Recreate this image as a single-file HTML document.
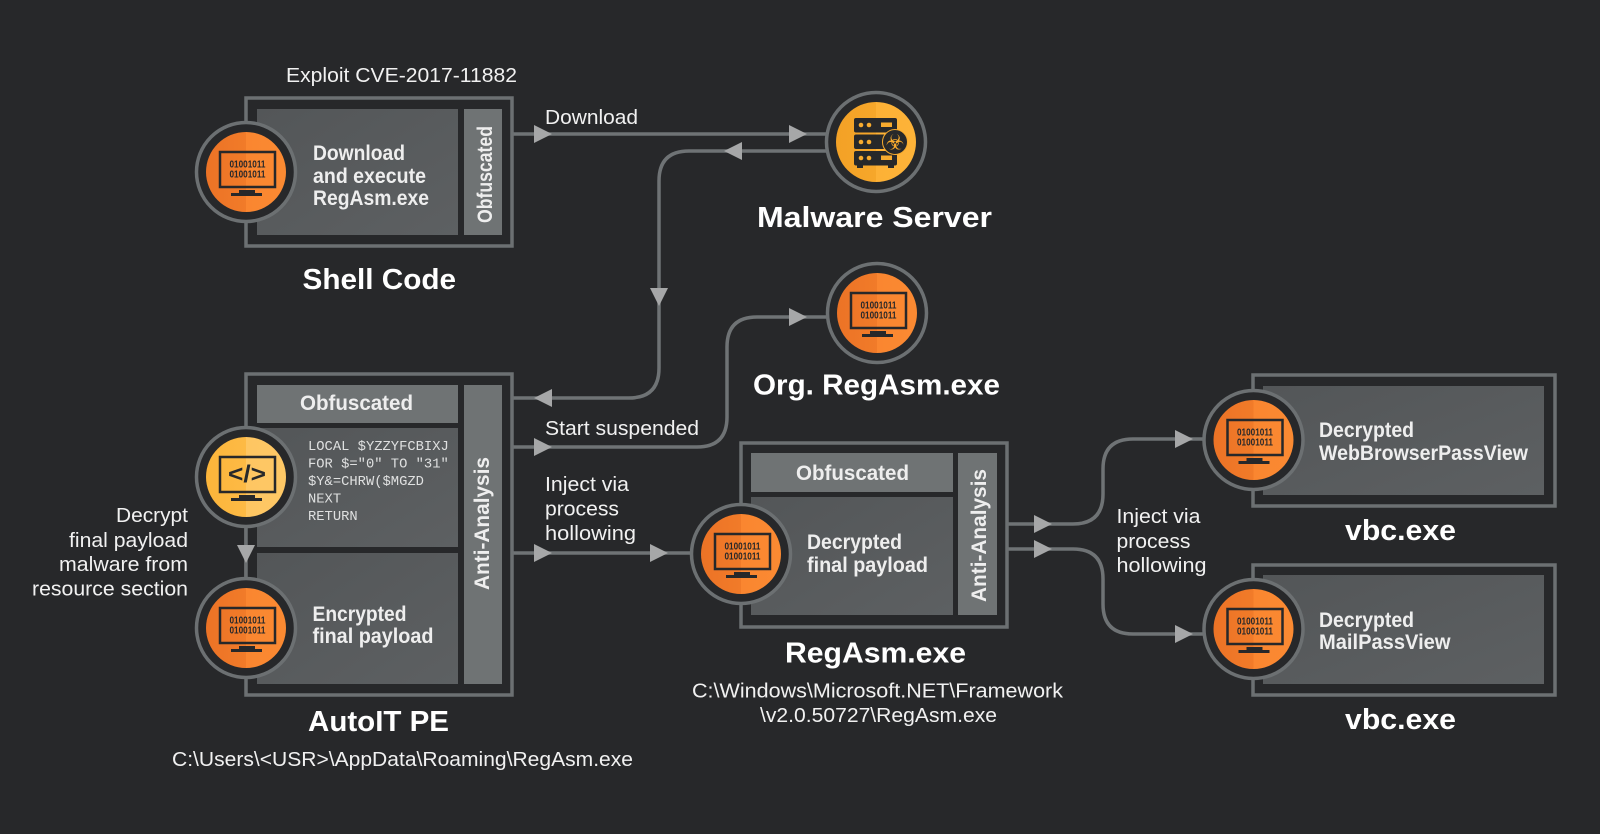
<!DOCTYPE html>
<html lang="en">
<head>
<meta charset="utf-8">
<title>Malware flow diagram</title>
<style>
html,body{margin:0;padding:0;background:#27282a;}
svg{display:block;width:1600px;height:834px;}
text{font-family:"Liberation Sans",sans-serif;}
.r{font-size:20.5px;fill:#f1f1f1;}
.b{font-size:21px;font-weight:700;fill:#eeeeee;}
.h{font-size:29px;font-weight:700;fill:#ffffff;}
.c{font-family:"Liberation Mono",monospace;font-size:13.8px;fill:#dfe0e0;}
.n{font-size:10px;font-weight:700;fill:#27282a;}
.wire{fill:none;stroke:#6f7375;stroke-width:3.5;}
.box{fill:#27282a;stroke:#6c7072;stroke-width:3.5;}
.ring{fill:#27282a;stroke:#6c7072;stroke-width:3.5;}
.tip{fill:#a6a7a8;}
.pan{fill:url(#pg);}
.bar{fill:#6f7374;}
.dk{fill:#27282a;}
</style>
</head>
<body>
<svg xmlns="http://www.w3.org/2000/svg" width="1600" height="834" viewBox="0 0 1600 834">
<defs>
<linearGradient id="pg" x1="0" y1="0" x2="1" y2="1"><stop offset="0" stop-color="#535658"/><stop offset="1" stop-color="#5d6062"/></linearGradient>
<linearGradient id="org" x1="0" x2="1" y1="0" y2="0"><stop offset="0" stop-color="#ec7326"/><stop offset="0.5" stop-color="#f17b29"/><stop offset="0.5" stop-color="#fa8630"/><stop offset="1" stop-color="#fb8a32"/></linearGradient>
<linearGradient id="yel" x1="0" x2="1" y1="0" y2="0"><stop offset="0" stop-color="#fcb53a"/><stop offset="0.5" stop-color="#fdba45"/><stop offset="0.5" stop-color="#fec662"/><stop offset="1" stop-color="#fec866"/></linearGradient>
<linearGradient id="amb" x1="0" x2="1" y1="0" y2="0"><stop offset="0" stop-color="#f3a126"/><stop offset="0.5" stop-color="#f6a72a"/><stop offset="0.5" stop-color="#fdb136"/><stop offset="1" stop-color="#fdb338"/></linearGradient>
</defs>
<rect width="1600" height="834" fill="#27282a"/>

<!-- connectors -->
<path class="wire" d="M512 134H826"/>
<path class="wire" d="M826 151H689Q659 151 659 181V368Q659 398 629 398H512"/>
<path class="wire" d="M826 317H757Q727 317 727 347V417Q727 447 697 447H512"/>
<path class="wire" d="M512 553H695"/>
<path class="wire" d="M246 525V580"/>
<path class="wire" d="M1007 524H1073Q1103 524 1103 494V469Q1103 439 1133 439H1205"/>
<path class="wire" d="M1007 549H1073Q1103 549 1103 579V604Q1103 634 1133 634H1205"/>

<!-- boxes -->
<rect class="box" x="246" y="98" width="266" height="148"/>
<rect class="pan" x="257" y="109" width="201" height="126"/>
<rect class="bar" x="464" y="109" width="38" height="126"/>

<rect class="box" x="246" y="374" width="266" height="321"/>
<rect class="bar" x="257" y="385" width="201" height="38"/>
<rect class="pan" x="257" y="428" width="201" height="119"/>
<rect class="pan" x="257" y="553" width="201" height="131"/>
<rect class="bar" x="464" y="385" width="38" height="299"/>

<rect class="box" x="741" y="443" width="266" height="184"/>
<rect class="bar" x="751" y="453" width="202" height="39"/>
<rect class="pan" x="751" y="497" width="202" height="118"/>
<rect class="bar" x="958" y="453" width="39" height="162"/>

<rect class="box" x="1253" y="375" width="302" height="131"/>
<rect class="pan" x="1263" y="386" width="281" height="109"/>
<rect class="box" x="1253" y="565" width="302" height="130"/>
<rect class="pan" x="1263" y="575" width="281" height="109"/>

<!-- arrowheads -->
<path class="tip" d="M534 125L552 134L534 143Z"/>
<path class="tip" d="M789 125L807 134L789 143Z"/>
<path class="tip" d="M742 142L724 151L742 160Z"/>
<path class="tip" d="M650 288L668 288L659 306Z"/>
<path class="tip" d="M552 389L534 398L552 407Z"/>
<path class="tip" d="M789 308L807 317L789 326Z"/>
<path class="tip" d="M534 438L552 447L534 456Z"/>
<path class="tip" d="M534 544L552 553L534 562Z"/>
<path class="tip" d="M650 544L668 553L650 562Z"/>
<path class="tip" d="M237 545L255 545L246 563Z"/>
<path class="tip" d="M1034 515L1052 524L1034 533Z"/>
<path class="tip" d="M1034 540L1052 549L1034 558Z"/>
<path class="tip" d="M1175 430L1193 439L1175 448Z"/>
<path class="tip" d="M1175 625L1193 634L1175 643Z"/>

<!-- nodes -->
<g transform="translate(246,172)">
<circle class="ring" r="49.5"/><circle r="40" fill="url(#org)"/>
<rect x="-26" y="-20" width="55" height="35" fill="none" stroke="#27282a" stroke-width="2.5"/>
<rect x="-7" y="18" width="16" height="3" class="dk"/><rect x="-15" y="21" width="31" height="3" class="dk"/>
<text class="n" x="-16.5" y="-4.5" textLength="36" lengthAdjust="spacingAndGlyphs">01001011</text>
<text class="n" x="-16.5" y="5.5" textLength="36" lengthAdjust="spacingAndGlyphs">01001011</text>
</g>
<g transform="translate(246,628)">
<circle class="ring" r="49.5"/><circle r="40" fill="url(#org)"/>
<rect x="-26" y="-20" width="55" height="35" fill="none" stroke="#27282a" stroke-width="2.5"/>
<rect x="-7" y="18" width="16" height="3" class="dk"/><rect x="-15" y="21" width="31" height="3" class="dk"/>
<text class="n" x="-16.5" y="-4.5" textLength="36" lengthAdjust="spacingAndGlyphs">01001011</text>
<text class="n" x="-16.5" y="5.5" textLength="36" lengthAdjust="spacingAndGlyphs">01001011</text>
</g>
<g transform="translate(246,477)">
<circle class="ring" r="49.5"/><circle r="40" fill="url(#yel)"/>
<rect x="-26" y="-20" width="55" height="35" fill="none" stroke="#27282a" stroke-width="2.5"/>
<rect x="-7" y="18" width="16" height="3" class="dk"/><rect x="-15" y="21" width="31" height="3" class="dk"/>
<text x="-18" y="5" font-size="24" font-weight="700" fill="#27282a" textLength="38" lengthAdjust="spacingAndGlyphs">&lt;/&gt;</text>
</g>
<g transform="translate(877,313)">
<circle class="ring" r="49.5"/><circle r="40" fill="url(#org)"/>
<rect x="-26" y="-20" width="55" height="35" fill="none" stroke="#27282a" stroke-width="2.5"/>
<rect x="-7" y="18" width="16" height="3" class="dk"/><rect x="-15" y="21" width="31" height="3" class="dk"/>
<text class="n" x="-16.5" y="-4.5" textLength="36" lengthAdjust="spacingAndGlyphs">01001011</text>
<text class="n" x="-16.5" y="5.5" textLength="36" lengthAdjust="spacingAndGlyphs">01001011</text>
</g>
<g transform="translate(741,554)">
<circle class="ring" r="49.5"/><circle r="40" fill="url(#org)"/>
<rect x="-26" y="-20" width="55" height="35" fill="none" stroke="#27282a" stroke-width="2.5"/>
<rect x="-7" y="18" width="16" height="3" class="dk"/><rect x="-15" y="21" width="31" height="3" class="dk"/>
<text class="n" x="-16.5" y="-4.5" textLength="36" lengthAdjust="spacingAndGlyphs">01001011</text>
<text class="n" x="-16.5" y="5.5" textLength="36" lengthAdjust="spacingAndGlyphs">01001011</text>
</g>
<g transform="translate(1253.5,440)">
<circle class="ring" r="49.5"/><circle r="40" fill="url(#org)"/>
<rect x="-26" y="-20" width="55" height="35" fill="none" stroke="#27282a" stroke-width="2.5"/>
<rect x="-7" y="18" width="16" height="3" class="dk"/><rect x="-15" y="21" width="31" height="3" class="dk"/>
<text class="n" x="-16.5" y="-4.5" textLength="36" lengthAdjust="spacingAndGlyphs">01001011</text>
<text class="n" x="-16.5" y="5.5" textLength="36" lengthAdjust="spacingAndGlyphs">01001011</text>
</g>
<g transform="translate(1253.5,629)">
<circle class="ring" r="49.5"/><circle r="40" fill="url(#org)"/>
<rect x="-26" y="-20" width="55" height="35" fill="none" stroke="#27282a" stroke-width="2.5"/>
<rect x="-7" y="18" width="16" height="3" class="dk"/><rect x="-15" y="21" width="31" height="3" class="dk"/>
<text class="n" x="-16.5" y="-4.5" textLength="36" lengthAdjust="spacingAndGlyphs">01001011</text>
<text class="n" x="-16.5" y="5.5" textLength="36" lengthAdjust="spacingAndGlyphs">01001011</text>
</g>
<g transform="translate(876,142)">
<circle class="ring" r="49.5"/><circle r="40" fill="url(#amb)"/>
<g class="dk">
<rect x="-22" y="-24" width="43" height="14.5" rx="2"/>
<rect x="-22" y="-7.5" width="43" height="14.5" rx="2"/>
<rect x="-22" y="9" width="43" height="14.5" rx="2"/>
<rect x="-19" y="23" width="6" height="3"/><rect x="12" y="23" width="6" height="3"/>
</g>
<g fill="#f8ab2e">
<circle cx="-15" cy="-17" r="2.3"/><circle cx="-7" cy="-17" r="2.3"/>
<circle cx="-15" cy="0" r="2.3"/><circle cx="-7" cy="0" r="2.3"/>
<circle cx="-15" cy="16" r="2.3"/><circle cx="-7" cy="16" r="2.3"/>
<rect x="5" y="-19.5" width="11" height="4.5"/><rect x="5" y="13.5" width="11" height="4.5"/>
</g>
<circle cx="19" cy="0" r="12.5" class="dk" stroke="#f8ab2e" stroke-width="1"/>
<text x="19" y="7.5" text-anchor="middle" font-size="21" style="font-family:'DejaVu Sans',sans-serif" fill="#f8ab2e">☣</text>
</g>

<!-- labels: regular -->
<text class="r" x="286" y="82" textLength="231" lengthAdjust="spacingAndGlyphs">Exploit CVE-2017-11882</text>
<text class="r" x="545" y="124" textLength="93" lengthAdjust="spacingAndGlyphs">Download</text>
<text class="r" x="545" y="435" textLength="154" lengthAdjust="spacingAndGlyphs">Start suspended</text>
<text class="r" x="545" y="491" textLength="84" lengthAdjust="spacingAndGlyphs">Inject via</text>
<text class="r" x="545" y="515.5" textLength="74" lengthAdjust="spacingAndGlyphs">process</text>
<text class="r" x="545" y="540" textLength="91" lengthAdjust="spacingAndGlyphs">hollowing</text>
<text class="r" x="116" y="522" textLength="72" lengthAdjust="spacingAndGlyphs">Decrypt</text>
<text class="r" x="69" y="547" textLength="119" lengthAdjust="spacingAndGlyphs">final payload</text>
<text class="r" x="59" y="571" textLength="129" lengthAdjust="spacingAndGlyphs">malware from</text>
<text class="r" x="32" y="595.5" textLength="156" lengthAdjust="spacingAndGlyphs">resource section</text>
<text class="r" x="172" y="766" textLength="461" lengthAdjust="spacingAndGlyphs">C:\Users\&lt;USR&gt;\AppData\Roaming\RegAsm.exe</text>
<text class="r" x="692" y="697.5" textLength="371" lengthAdjust="spacingAndGlyphs">C:\Windows\Microsoft.NET\Framework</text>
<text class="r" x="760" y="722" textLength="237" lengthAdjust="spacingAndGlyphs">\v2.0.50727\RegAsm.exe</text>
<text class="r" x="1116.5" y="523" textLength="84" lengthAdjust="spacingAndGlyphs">Inject via</text>
<text class="r" x="1116.5" y="548" textLength="74" lengthAdjust="spacingAndGlyphs">process</text>
<text class="r" x="1116.5" y="572" textLength="90" lengthAdjust="spacingAndGlyphs">hollowing</text>

<!-- labels: panels -->
<text class="b" x="313" y="160" textLength="92" lengthAdjust="spacingAndGlyphs">Download</text>
<text class="b" x="313" y="183" textLength="113" lengthAdjust="spacingAndGlyphs">and execute</text>
<text class="b" x="313" y="205" textLength="116" lengthAdjust="spacingAndGlyphs">RegAsm.exe</text>
<text class="b" transform="translate(492,223) rotate(-90)" textLength="97" lengthAdjust="spacingAndGlyphs">Obfuscated</text>
<text class="b" x="300" y="410" textLength="113" lengthAdjust="spacingAndGlyphs">Obfuscated</text>
<text class="b" x="312.5" y="621" textLength="94" lengthAdjust="spacingAndGlyphs">Encrypted</text>
<text class="b" x="312.5" y="643" textLength="121" lengthAdjust="spacingAndGlyphs">final payload</text>
<text class="b" transform="translate(489,590) rotate(-90)" textLength="133" lengthAdjust="spacingAndGlyphs">Anti-Analysis</text>
<text class="b" x="796" y="480" textLength="113" lengthAdjust="spacingAndGlyphs">Obfuscated</text>
<text class="b" x="807" y="549" textLength="95" lengthAdjust="spacingAndGlyphs">Decrypted</text>
<text class="b" x="807" y="572" textLength="121" lengthAdjust="spacingAndGlyphs">final payload</text>
<text class="b" transform="translate(986,602) rotate(-90)" textLength="133" lengthAdjust="spacingAndGlyphs">Anti-Analysis</text>
<text class="b" x="1319" y="437" textLength="95" lengthAdjust="spacingAndGlyphs">Decrypted</text>
<text class="b" x="1319" y="460" textLength="209" lengthAdjust="spacingAndGlyphs">WebBrowserPassView</text>
<text class="b" x="1319" y="627" textLength="95" lengthAdjust="spacingAndGlyphs">Decrypted</text>
<text class="b" x="1319" y="649" textLength="131.5" lengthAdjust="spacingAndGlyphs">MailPassView</text>

<!-- code -->
<text class="c" x="308" y="450">LOCAL $YZZYFCBIXJ</text>
<text class="c" x="308" y="467.5">FOR $="0" TO "31"</text>
<text class="c" x="308" y="485">$Y&amp;=CHRW($MGZD</text>
<text class="c" x="308" y="502.5">NEXT</text>
<text class="c" x="308" y="520">RETURN</text>

<!-- titles -->
<text class="h" x="302.5" y="289" textLength="153.5" lengthAdjust="spacingAndGlyphs">Shell Code</text>
<text class="h" x="757" y="227" textLength="235" lengthAdjust="spacingAndGlyphs">Malware Server</text>
<text class="h" x="753" y="394.5" textLength="247" lengthAdjust="spacingAndGlyphs">Org. RegAsm.exe</text>
<text class="h" x="308" y="731" textLength="141" lengthAdjust="spacingAndGlyphs">AutoIT PE</text>
<text class="h" x="785" y="662.5" textLength="181" lengthAdjust="spacingAndGlyphs">RegAsm.exe</text>
<text class="h" x="1345" y="540" textLength="111" lengthAdjust="spacingAndGlyphs">vbc.exe</text>
<text class="h" x="1345" y="729" textLength="111" lengthAdjust="spacingAndGlyphs">vbc.exe</text>
</svg>
</body>
</html>
